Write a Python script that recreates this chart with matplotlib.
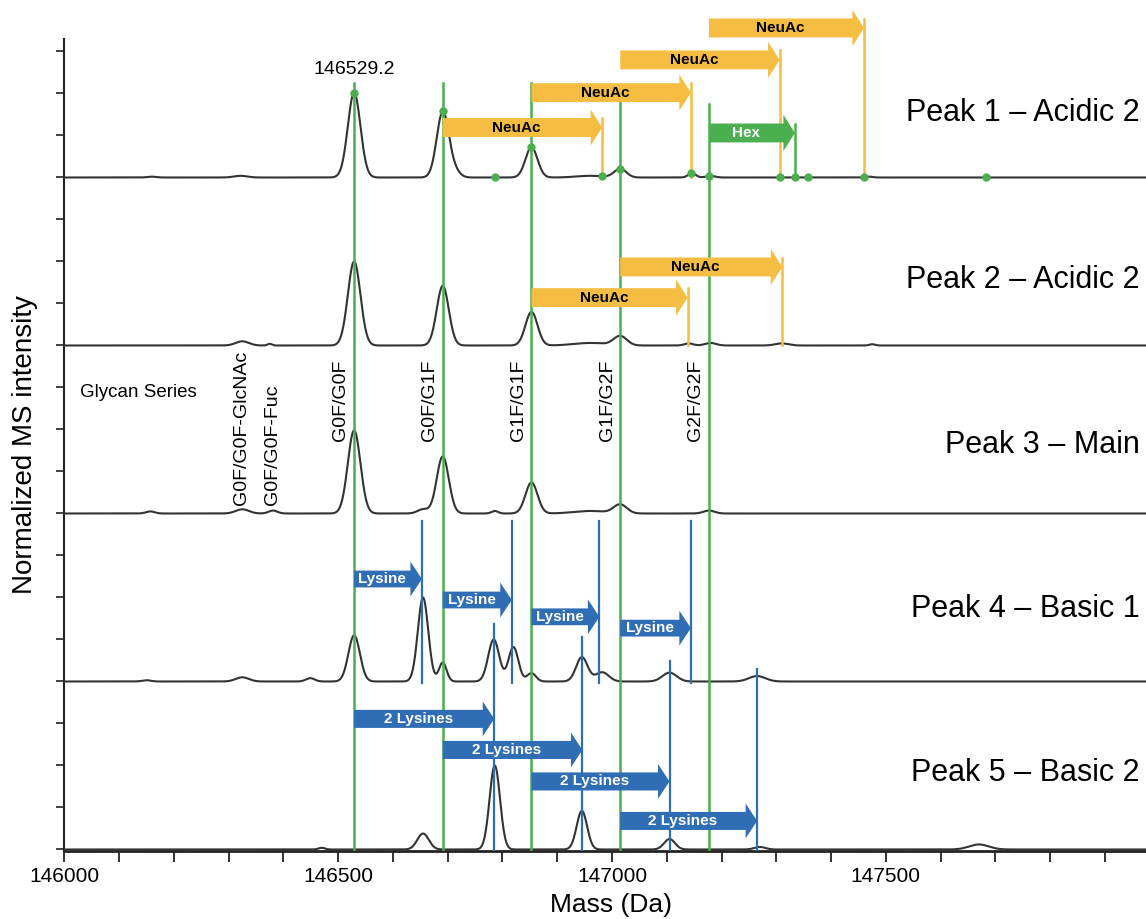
import numpy as np
import matplotlib.pyplot as plt
from matplotlib.patches import FancyArrow

plt.rcParams['font.family'] = ['Liberation Sans', 'DejaVu Sans']

# glycan series (Da)
glycan_names = ['G0F/G0F-GlcNAc', 'G0F/G0F-Fuc', 'G0F/G0F', 'G0F/G1F', 'G1F/G1F', 'G1F/G2F', 'G2F/G2F']
glycan_mass = [146326, 146383, 146529.2, 146691, 146853, 147015, 147177]
green_line_top = [18.25, 18.25, 18.25, 17.80, 17.75]  # for the 5 main glycoforms

peak_names = ['Peak 1 – Acidic 2', 'Peak 2 – Acidic 2', 'Peak 3 – Main', 'Peak 4 – Basic 1', 'Peak 5 – Basic 2']
offsets = [16, 12, 8, 4, 0]
label_dy = [1.54, 1.56, 1.63, 1.73, 1.82]

# peaks of each trace: mass, height, width (sigma)
p1_mass = [146160, 146322, 146529.2, 146691, 146712, 146853, 146960, 147015, 147146, 147180, 147470]
p1_height = [0.02, 0.04, 2.02, 1.56, 0.15, 0.72, 0.04, 0.21, 0.1, 0.04, 0.02]
p1_width = [8, 12, 11.5, 11, 10, 11, 25, 11, 7, 8, 6]

p2_mass = [146325, 146375, 146529.2, 146691, 146853, 146960, 147015, 147140, 147180, 147310, 147475]
p2_height = [0.1, 0.04, 2.0, 1.42, 0.8, 0.06, 0.22, 0.05, 0.06, 0.05, 0.03]
p2_width = [12, 4, 11.5, 11, 11, 30, 12, 8, 10, 12, 5]

p3_mass = [146157, 146325, 146381, 146529.2, 146655, 146691, 146786, 146853, 146960, 147015, 147177]
p3_height = [0.05, 0.1, 0.07, 1.98, 0.1, 1.36, 0.06, 0.74, 0.06, 0.21, 0.07]
p3_width = [8, 12, 8, 11.5, 10, 11, 6, 11, 30, 12, 10]

p4_mass = [146150, 146325, 146449, 146529.2, 146655, 146691, 146784, 146820, 146853, 146945, 146982, 147105, 147265]
p4_height = [0.03, 0.1, 0.08, 1.1, 2.0, 0.45, 1.0, 0.82, 0.2, 0.58, 0.22, 0.21, 0.13]
p4_width = [8, 12, 8, 10.5, 9.5, 7, 10, 9, 8, 10.5, 12, 13, 15]

p5_mass = [146470, 146655, 146786, 146945, 147105, 147270, 147670]
p5_height = [0.04, 0.38, 2.0, 0.92, 0.25, 0.06, 0.12]
p5_width = [6, 10.5, 9.5, 9.5, 10, 10, 18]

trace_peaks = [(p1_mass, p1_height, p1_width), (p2_mass, p2_height, p2_width),
               (p3_mass, p3_height, p3_width), (p4_mass, p4_height, p4_width),
               (p5_mass, p5_height, p5_width)]

# green markers on Peak 1 trace
dot_mass = [146529.2, 146691, 146786, 146853, 146982, 147015, 147144, 147177, 147306, 147334, 147357, 147460, 147683]

# NeuAc shifts: start, end, row height, trace baseline
neuac_start = [146691, 146853, 147015, 147177, 146853, 147015]
neuac_end = [146982, 147144, 147306, 147460, 147138, 147311]
neuac_y = [17.19, 18.02, 18.80, 19.56, 13.14, 13.87]
neuac_base = [16, 16, 16, 16, 12, 12]

hex_start, hex_end, hex_y = 147177, 147334, 17.06

lys_start = [146529.2, 146691, 146853, 147015]
lys_end = [146653, 146817, 146977, 147144]
lys_y = [6.44, 5.94, 5.54, 5.27]

lys2_start = [146529.2, 146691, 146853, 147015]
lys2_end = [146785, 146946, 147105, 147265]
lys2_y = [3.11, 2.37, 1.62, 0.68]
lys2_top = [5.37, 5.06, 4.49, 4.30]

green = '#4bae4f'
orange = '#f5bd42'
blue = '#2f6db5'
dark = '#333333'
narrow = ['Liberation Sans Narrow', 'Liberation Sans']

fig = plt.figure(figsize=(11.46, 9.19), dpi=100)
ax = fig.add_axes([64.3 / 1146, 68 / 919, 1 - 64.3 / 1146, 851 / 919])

mass = np.linspace(146000, 147975, 5000)
traces = []
for (m, h, w), off in zip(trace_peaks, offsets):
    y = np.zeros_like(mass)
    for mi, hi, wi in zip(m, h, w):
        y += hi * np.exp(-(mass - mi) ** 2 / (2 * wi ** 2))
    traces.append(y + off)
    ax.plot(mass, y + off, color=dark, lw=1.5, zorder=3)

# glycan lines
for gm, top in zip(glycan_mass[2:], green_line_top):
    ax.plot([gm, gm], [-0.04, top], color=green, lw=1.8, zorder=4)

def arrow(x0, x1, y, color, body, head):
    a = FancyArrow(x0, y, x1 - x0, 0, width=body, head_width=head, head_length=21,
                   length_includes_head=True, color=color, lw=0, zorder=6)
    ax.add_patch(a)

# NeuAc arrows
for s, e, y, b in zip(neuac_start, neuac_end, neuac_y, neuac_base):
    arrow(s, e, y, orange, 0.45, 0.86)
    ax.plot([e, e], [b, y + 0.225], color=orange, lw=1.8, zorder=5)
    ax.text((s + e - 21) / 2, y, 'NeuAc', ha='center', va='center', fontsize=11,
            fontweight='bold', color='black', zorder=7, family=narrow)

# Hex arrow
arrow(hex_start, hex_end, hex_y, green, 0.45, 0.86)
ax.plot([hex_end, hex_end], [16, hex_y + 0.225], color=green, lw=1.8, zorder=5)
ax.text((hex_start + hex_end - 21) / 2, hex_y, 'Hex', ha='center', va='center', fontsize=11,
        fontweight='bold', color='white', zorder=7, family=narrow)

# Lysine arrows (Peak 4)
for s, e, y in zip(lys_start, lys_end, lys_y):
    arrow(s, e, y, blue, 0.40, 0.83)
    ax.plot([e, e], [3.96, 7.82], color=blue, lw=1.6, zorder=5)
    ax.text((s + e - 21) / 2, y, 'Lysine', ha='center', va='center', fontsize=11,
            fontweight='bold', color='white', zorder=7, family=narrow)

# 2 Lysines arrows (Peak 5)
for s, e, y, t in zip(lys2_start, lys2_end, lys2_y, lys2_top):
    arrow(s, e, y, blue, 0.43, 0.83)
    ax.plot([e, e], [-0.04, t], color=blue, lw=1.6, zorder=5)
    ax.text((s + e - 21) / 2, y, '2 Lysines', ha='center', va='center', fontsize=11,
            fontweight='bold', color='white', zorder=7, family=narrow)

# green dots on Peak 1
ax.plot(dot_mass, np.interp(dot_mass, mass, traces[0]), 'o', color=green, ms=5, zorder=8)

# text labels
ax.text(146529.2, 18.56, '146529.2', ha='center', va='center', fontsize=14)
ax.text(146135, 10.87, 'Glycan Series', ha='center', va='center', fontsize=13.5)
for i, (name, gm) in enumerate(zip(glycan_names, glycan_mass)):
    if i < 2:
        ax.text(gm - 2, 8.20, name, rotation=90, ha='center', va='bottom', fontsize=14)
    else:
        ax.text(gm - 24, 11.67, name, rotation=90, ha='center', va='top', fontsize=14)

for name, off, dy in zip(peak_names, offsets, label_dy):
    ax.text(147963, off + dy, name, ha='right', va='center', fontsize=22)

ax.set_xlim(146000, 147975)
ax.set_ylim(-0.036, 20.226)
ax.spines['top'].set_visible(False)
ax.spines['right'].set_visible(False)
ax.spines['left'].set_bounds(-0.036, 19.3)
ax.spines['left'].set_linewidth(1.5)
ax.spines['bottom'].set_linewidth(2)
ax.spines['left'].set_color('#222222')
ax.spines['bottom'].set_color('#222222')

ax.set_xticks([146000, 146500, 147000, 147500])
ax.set_xticks(np.arange(146000, 148000, 100), minor=True)
ax.tick_params(axis='x', which='both', direction='out', length=8, width=1.3, labelsize=15, color='#222222')
ax.set_yticks(np.arange(0, 20, 1))
ax.set_yticklabels([])
ax.tick_params(axis='y', direction='out', length=6, width=1.2, color='#222222')

fig.text(25 / 1146, 1 - 445 / 919, 'Normalized MS intensity', rotation=90, ha='center', va='center', fontsize=20)
fig.text(611 / 1146, 1 - 905 / 919, 'Mass (Da)', ha='center', va='center', fontsize=19)

fig.savefig('out.png', dpi=100)
